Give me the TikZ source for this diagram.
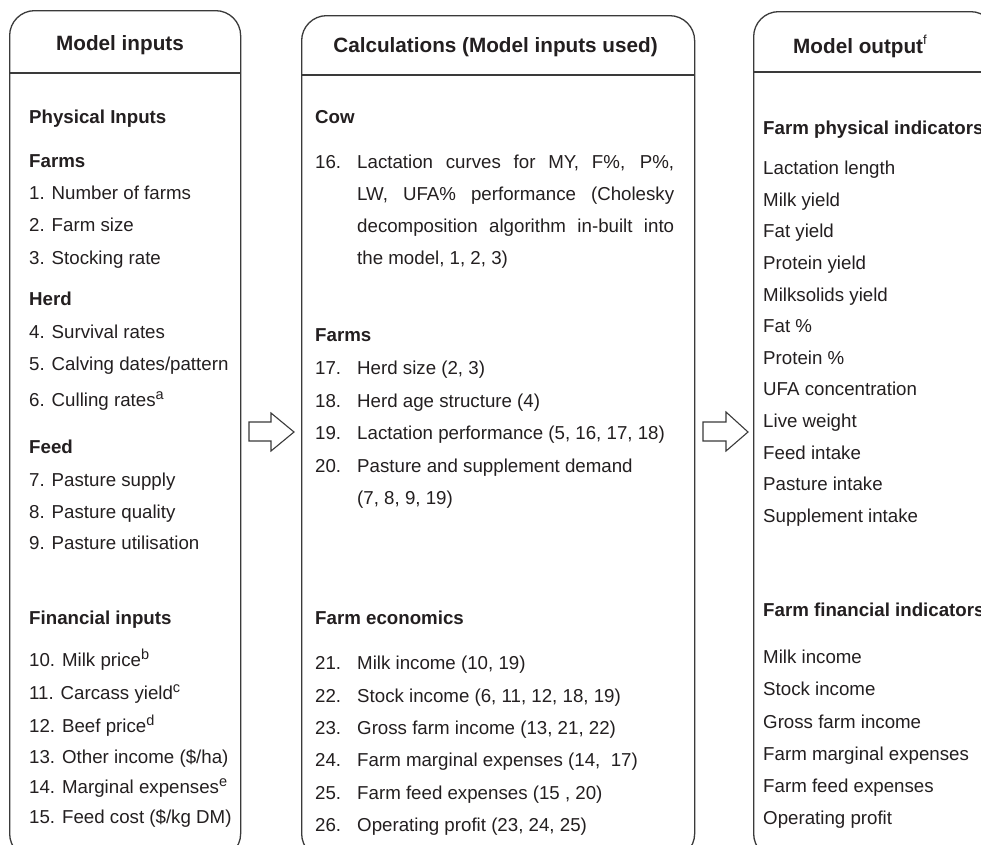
\documentclass[tikz,border=0pt]{standalone}
\usepackage{fontspec}
\setmainfont{Liberation Sans}
\definecolor{ink}{HTML}{231F20}
\definecolor{edge}{HTML}{3A3A3A}
\newcommand\supx[1]{\raisebox{7pt}{\fontsize{14.5}{14.5}\selectfont #1}}
\newcommand\supf[1]{\raisebox{9pt}{\fontsize{13}{13}\selectfont\mdseries #1}}
\tikzset{
  txt/.style={anchor=base west, inner sep=0pt, text=ink, font=\fontsize{18.7}{22}\selectfont},
  subhead/.style={anchor=base west, inner sep=0pt, text=ink, font=\fontsize{18.7}{22}\selectfont\bfseries},
  head/.style={anchor=base, inner sep=0pt, text=ink, font=\fontsize{20.7}{24}\selectfont\bfseries},
  panel/.style={draw=edge, line width=1.3pt, rounded corners=25pt, rectangle, anchor=north west, inner sep=0pt},
  rule/.style={draw=edge, line width=1.3pt},
  blockarrow/.style={draw=edge, line width=1.1pt, fill=white, line join=miter},
}
\begin{document}
\begin{tikzpicture}[x=1pt, y=-1pt]
\useasboundingbox (0,0) rectangle (981,844);
\clip (0,0) rectangle (981,844);
\fill[white] (0,0) rectangle (981,844);

% panels
\node[panel, minimum width=231pt, minimum height=848pt] (inputs) at (9,10) {};
\node[panel, minimum width=393pt, minimum height=843pt] (calc) at (301,15) {};
\node[panel, minimum width=242pt, minimum height=847pt] (output) at (753,11) {};
\coordinate (l1a) at (9,73);  \coordinate (l1b) at (240,73);
\coordinate (l2a) at (301,75); \coordinate (l2b) at (694,75);
\coordinate (l3a) at (753,72); \coordinate (l3b) at (995,72);
\draw[rule] (l1a) -- (l1b);
\draw[rule] (l2a) -- (l2b);
\draw[rule] (l3a) -- (l3b);

% block arrows
\draw[blockarrow] (249,422) -- (271,422) -- (271,413) -- (294,432) -- (271,451) -- (271,441) -- (249,441) -- cycle;
\draw[blockarrow] (703,422) -- (726,422) -- (726,412) -- (748,432) -- (726,451) -- (726,441) -- (703,441) -- cycle;

% headings
\node[head] (h1) at (120,50) {Model inputs};
\node[head] (h2) at (495.5,52) {Calculations (Model inputs used)};
\node[head, anchor=base west] (h3) at (793,53) {Model output\supf{f}};

% ---- Model inputs
\node[subhead] (a0) at (29,123.7) {Physical Inputs};
\node[subhead] (a1) at (29,167.7) {Farms};
\node[txt] (a2) at (29,199.2) {1. Number of farms};
\node[txt] (a3) at (29,231.7) {2. Farm size};
\node[txt] (a4) at (29,264.2) {3. Stocking rate};
\node[subhead] (a5) at (29,305.7) {Herd};
\node[txt] (a6) at (29,338.7) {4. Survival rates};
\node[txt] (a7) at (29,370.7) {5. Calving dates/pattern};
\node[txt] (a8) at (29,406.5) {6. Culling rates\supx{a}};
\node[subhead] (a9) at (29,453.7) {Feed};
\node[txt] (a10) at (29,486.2) {7. Pasture supply};
\node[txt] (a11) at (29,518.7) {8. Pasture quality};
\node[txt] (a12) at (29,549.7) {9. Pasture utilisation};
\node[subhead] (a13) at (29,624.7) {Financial inputs};
\node[txt] (a14) at (29,666.7) {10. Milk price\supx{b}};
\node[txt] (a15) at (29,699.7) {11. Carcass yield\supx{c}};
\node[txt] (a16) at (29,732.7) {12. Beef price\supx{d}};
\node[txt] (a17) at (29,763.7) {13. Other income (\$/ha)};
\node[txt] (a18) at (29,793.7) {14. Marginal expenses\supx{e}};
\node[txt] (a19) at (29,823.7) {15. Feed cost (\$/kg DM)};

% ---- Calculations
\node[subhead] (b0) at (315,123.7) {Cow};
\node[txt] (n16) at (315,168.7) {16.};
\node[txt] (b1) at (357,168.7) {\makebox[317pt][s]{Lactation curves for MY, F\%, P\%,}};
\node[txt] (b2) at (357,200.7) {\makebox[317pt][s]{LW, UFA\% performance (Cholesky}};
\node[txt] (b3) at (357,232.7) {\makebox[317pt][s]{decomposition algorithm in-built into}};
\node[txt] (b4) at (357,264.7) {the model, 1, 2, 3)};
\node[subhead] (b5) at (315,341.2) {Farms};
\node[txt] (n17) at (315,374.7) {17.};
\node[txt] (b6) at (357,374.7) {Herd size (2, 3)};
\node[txt] (n18) at (315,407.2) {18.};
\node[txt] (b7) at (357,407.2) {Herd age structure (4)};
\node[txt] (n19) at (315,439.7) {19.};
\node[txt] (b8) at (357,439.7) {Lactation performance (5, 16, 17, 18)};
\node[txt] (n20) at (315,472.2) {20.};
\node[txt] (b9) at (357,472.2) {Pasture and supplement demand};
\node[txt] (b10) at (357,504.7) {(7, 8, 9, 19)};
\node[subhead] (b11) at (315,624.7) {Farm economics};
\node[txt] (n21) at (315,669.7) {21.};
\node[txt] (b12) at (357,669.7) {Milk income (10, 19)};
\node[txt] (n22) at (315,702.1) {22.};
\node[txt] (b13) at (357,702.1) {Stock income (6, 11, 12, 18, 19)};
\node[txt] (n23) at (315,734.5) {23.};
\node[txt] (b14) at (357,734.5) {Gross farm income (13, 21, 22)};
\node[txt] (n24) at (315,766.9) {24.};
\node[txt] (b15) at (357,766.9) {Farm marginal expenses (14, \ 17)};
\node[txt] (n25) at (315,799.3) {25.};
\node[txt] (b16) at (357,799.3) {Farm feed expenses (15 , 20)};
\node[txt] (n26) at (315,831.7) {26.};
\node[txt] (b17) at (357,831.7) {Operating profit (23, 24, 25)};

% ---- Model output
\node[subhead] (c0) at (763,134.7) {Farm physical indicators};
\node[txt] (c1) at (763,174.7) {Lactation length};
\node[txt] (c2) at (763,206.3) {Milk yield};
\node[txt] (c3) at (763,237.9) {Fat yield};
\node[txt] (c4) at (763,269.5) {Protein yield};
\node[txt] (c5) at (763,301.1) {Milksolids yield};
\node[txt] (c6) at (763,332.7) {Fat \%};
\node[txt] (c7) at (763,364.3) {Protein \%};
\node[txt] (c8) at (763,395.9) {UFA concentration};
\node[txt] (c9) at (763,427.5) {Live weight};
\node[txt] (c10) at (763,459.1) {Feed intake};
\node[txt] (c11) at (763,490.7) {Pasture intake};
\node[txt] (c12) at (763,522.3) {Supplement intake};
\node[subhead] (c13) at (763,616.7) {Farm financial indicators};
\node[txt] (c14) at (763,663.7) {Milk income};
\node[txt] (c15) at (763,695.9) {Stock income};
\node[txt] (c16) at (763,728.1) {Gross farm income};
\node[txt] (c17) at (763,760.3) {Farm marginal expenses};
\node[txt] (c18) at (763,792.5) {Farm feed expenses};
\node[txt] (c19) at (763,824.7) {Operating profit};
\end{tikzpicture}
\end{document}
